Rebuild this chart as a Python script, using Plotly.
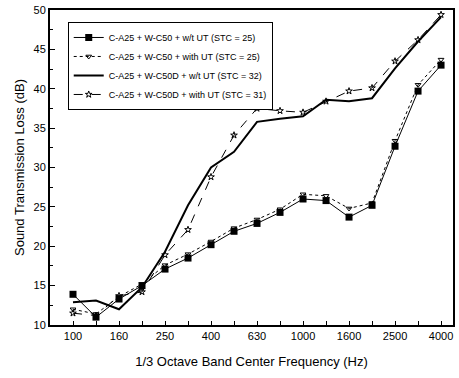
import plotly.graph_objects as go

bands = ["100", "125", "160", "200", "250", "315", "400", "500", "630", "800",
         "1000", "1250", "1600", "2000", "2500", "3150", "4000"]
tick_labels = ["100", "", "160", "", "250", "", "400", "", "630", "", "1000", "", "1600", "", "2500", "", "4000"]

c50_wo = [13.9, 11.0, 13.3, 15.0, 17.1, 18.5, 20.2, 21.9, 22.9, 24.3, 26.0, 25.8, 23.7, 25.2, 32.7, 39.7, 43.0]
c50_with = [12.0, 11.4, 13.6, 15.2, 17.6, 19.0, 20.6, 22.3, 23.4, 24.7, 26.6, 26.4, 24.8, 25.5, 33.4, 40.5, 43.7]
c50d_wo = [12.9, 13.1, 12.0, 14.8, 19.3, 25.2, 30.0, 32.0, 35.8, 36.2, 36.5, 38.6, 38.4, 38.8, 42.6, 46.0, 49.1]
c50d_with = [11.5, 11.2, 13.7, 14.2, 18.9, 22.1, 28.8, 34.1, 37.5, 37.2, 37.0, 38.4, 39.7, 40.1, 43.5, 46.2, 49.4]

names = ["C-A25 + W-C50 + w/t UT (STC = 25)",
         "C-A25 + W-C50 + with UT (STC = 25)",
         "C-A25 + W-C50D + w/t UT (STC = 32)",
         "C-A25 + W-C50D + with UT (STC = 31)"]

fig = go.Figure()
fig.add_trace(go.Scatter(x=bands, y=c50_wo, name=names[0], mode="lines+markers",
                         line=dict(color="black", width=1),
                         marker=dict(symbol="square", size=7, color="black")))
fig.add_trace(go.Scatter(x=bands, y=c50_with, name=names[1], mode="lines+markers",
                         line=dict(color="black", width=1, dash="dot"),
                         marker=dict(symbol="triangle-down-open", size=5, color="black", line=dict(width=1))))
fig.add_trace(go.Scatter(x=bands, y=c50d_wo, name=names[2], mode="lines",
                         line=dict(color="black", width=2)))
fig.add_trace(go.Scatter(x=bands, y=c50d_with, name=names[3], mode="lines+markers",
                         line=dict(color="black", width=1, dash="dash"),
                         marker=dict(symbol="star-open", size=5, color="black", line=dict(width=1))))

fig.update_layout(
    width=459, height=378,
    margin=dict(l=50, r=4, t=10, b=53),
    paper_bgcolor="white", plot_bgcolor="white",
    font=dict(family="Liberation Sans, Arial", size=11, color="black"),
    showlegend=True,
    legend=dict(x=0.044, y=0.962, xanchor="left", yanchor="top",
                bgcolor="white", bordercolor="black", borderwidth=1,
                font=dict(size=9), tracegroupgap=0, itemwidth=30),
    xaxis=dict(type="category", categoryorder="array", categoryarray=bands,
               range=[-1, 16.52], tickmode="array", tickvals=bands, ticktext=tick_labels,
               ticks="inside", ticklen=4, tickcolor="black", showgrid=False, zeroline=False,
               showline=True, linecolor="black", linewidth=2, mirror=True,
               title=dict(text="1/3 Octave Band Center Frequency (Hz)", font=dict(size=13), standoff=16),
               tickfont=dict(size=11)),
    yaxis=dict(range=[10, 50], tickmode="array", tickvals=[10, 15, 20, 25, 30, 35, 40, 45, 50],
               ticks="inside", ticklen=5, tickcolor="black", showgrid=False, zeroline=False,
               showline=True, linecolor="black", linewidth=2, mirror=True,
               minor=dict(tickvals=[12.5, 17.5, 22.5, 27.5, 32.5, 37.5, 42.5, 47.5], ticks="inside", ticklen=3, tickcolor="black"),
               title=dict(text="Sound Transmission Loss (dB)", font=dict(size=13), standoff=6),
               tickfont=dict(size=11)),
)

fig.write_html("out.html")
